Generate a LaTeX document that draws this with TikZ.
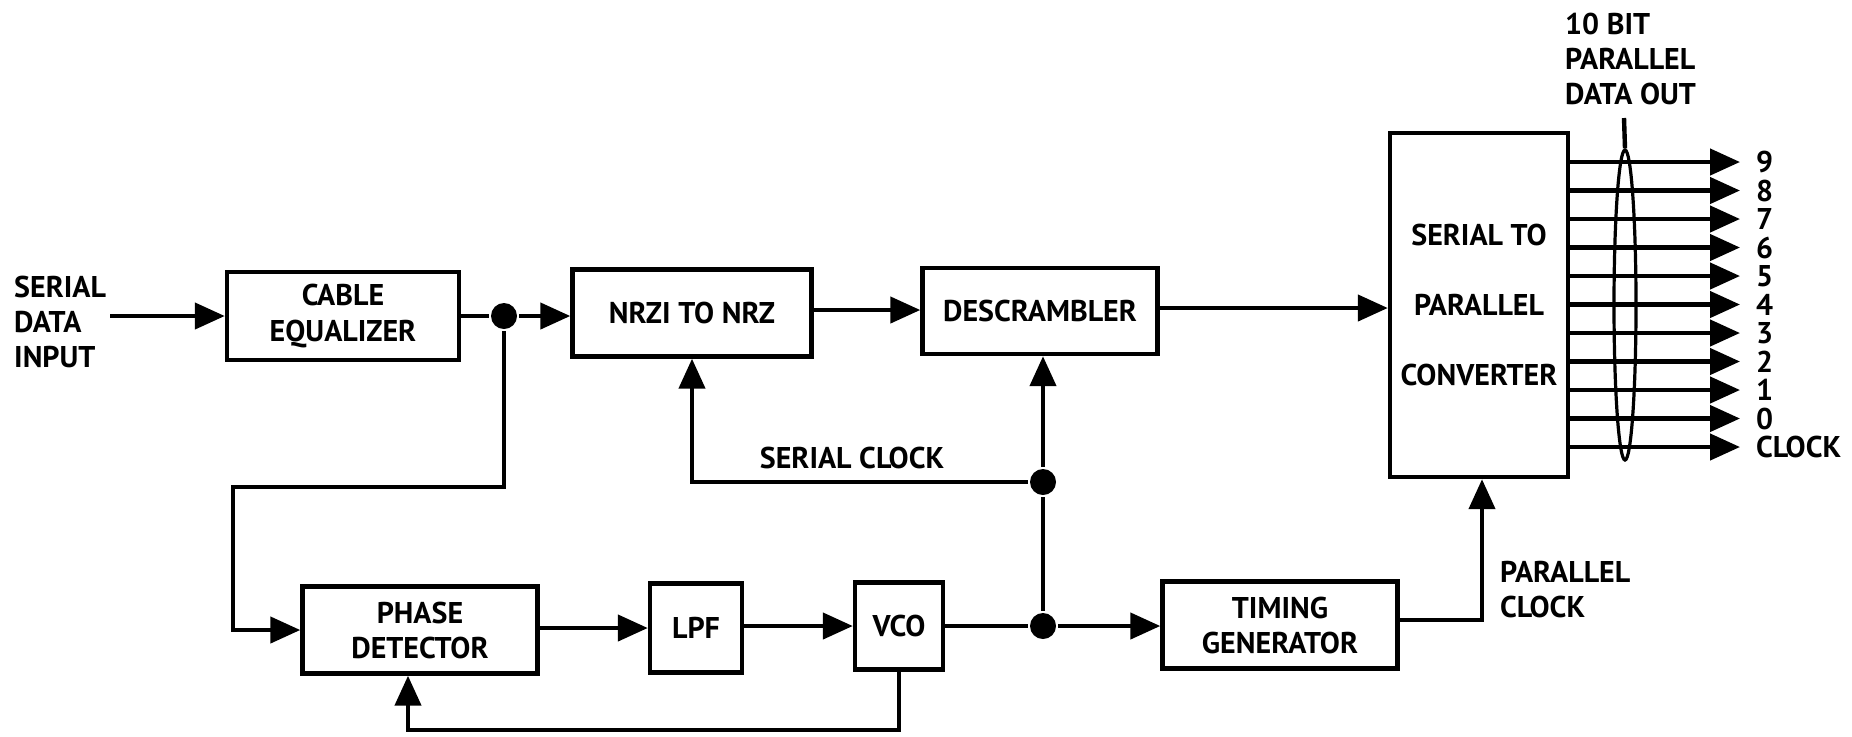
\documentclass[tikz,border=0pt]{standalone}
\usepackage{fontspec}
\setmainfont{PT Sans}
\usetikzlibrary{arrows.meta,positioning,shapes.geometric}

\begin{document}
\begin{tikzpicture}[x=0.5pt,y=-0.5pt,>={Triangle[length=15pt,width=13pt]},line width=2.2pt,
box/.style={draw,line width=2.2pt,align=center,inner sep=0pt,font=\bfseries\fontsize{15}{17.5}\selectfont},
lbl/.style={align=left,inner sep=0pt,font=\bfseries\fontsize{15}{17.5}\selectfont},
dot/.style={circle,fill,inner sep=0pt,minimum size=13pt}]
\useasboundingbox (0,0) rectangle (1852,736);
% upper row
\node[box,minimum width=116pt,minimum height=44pt] (equal) at (343,316) {CABLE\\EQUALIZER};
\node[box,minimum width=119.5pt,minimum height=43.5pt] (nrzi) at (692,313) {NRZI TO NRZ};
\node[box,minimum width=117.5pt,minimum height=43pt] (descr) at (1040,311) {DESCRAMBLER};
\node[box,minimum width=89pt,minimum height=172pt,font=\bfseries\fontsize{15}{35}\selectfont] (conv) at (1479,305) {SERIAL TO\\PARALLEL\\CONVERTER};
% lower row
\node[box,minimum width=117.5pt,minimum height=43.5pt] (phase) at (420,630) {PHASE\\DETECTOR};
\node[box,minimum width=46pt,minimum height=44.5pt] (lpf) at (696,628) {LPF};
\node[box,minimum width=44pt,minimum height=43.5pt] (vco) at (899,626) {VCO};
\node[box,minimum width=117.5pt,minimum height=43.5pt] (timing) at (1280,625) {TIMING\\GENERATOR};
% junctions
\node[dot] (j1) at (504,316) {};
\node[dot] (j2) at (1043,626) {};
\node[dot] (j3) at (1043,482) {};
% labels
\node[lbl,anchor=west] (sdi) at (12,322) {SERIAL\\DATA\\INPUT};
\node[lbl] (sclk) at (852,458) {SERIAL CLOCK};
\node[lbl,anchor=west] (pclk) at (1498,590) {PARALLEL\\CLOCK};
\node[lbl,anchor=west] (pdo) at (1563,59) {10 BIT\\PARALLEL\\DATA OUT};
\node[draw,ellipse,line width=1.6pt,minimum width=11pt,minimum height=155pt,inner sep=0pt] (bus) at (1625,305) {};
\coordinate (bustop) at (1624,118);
\coordinate (sdiout) at (110,316);
\coordinate (c1) at (233,487);
\coordinate (fb) at (650,730);
% data path
\draw[->] (sdiout) -- (equal.west);
\draw (equal) -- (j1);
\draw[->] (j1) -- (j1 -| nrzi.west);
\draw[->] (nrzi.east |- 0,310) -- (descr.west |- 0,310);
\draw[->] (descr.east |- 0,308) -- (conv.west |- 0,308);
% clock recovery
\draw[->] (j1) |- (c1) |- (phase.west);
\draw[->] (phase.east |- lpf) -- (lpf.west);
\draw[->] (lpf.east |- vco) -- (vco.west);
\draw (vco) -- (j2);
\draw[->] (j2) -- (timing.west |- j2);
\draw (j2) -- (j3);
\draw[->] (j3) -- (j3 |- descr.south);
\draw[->] (j3) -| (nrzi.south);
\draw[->] (vco.south) |- (fb) -| ([xshift=-6pt]phase.south);
\draw[->] (timing.east |- 0,620) -| ([xshift=1.5pt]conv.south);
% parallel outputs
\foreach \lab [count=\i from 0] in {9,8,7,6,5,4,3,2,1,0,CLOCK}{
  \node[lbl,anchor=west,inner xsep=7pt] (out\i) at (1740,{162+28.5*\i}) {\lab};
  \draw[->] (conv.east |- out\i) -- (out\i.west);
}
\draw (bus.north) -- (bustop);
\end{tikzpicture}
\end{document}
